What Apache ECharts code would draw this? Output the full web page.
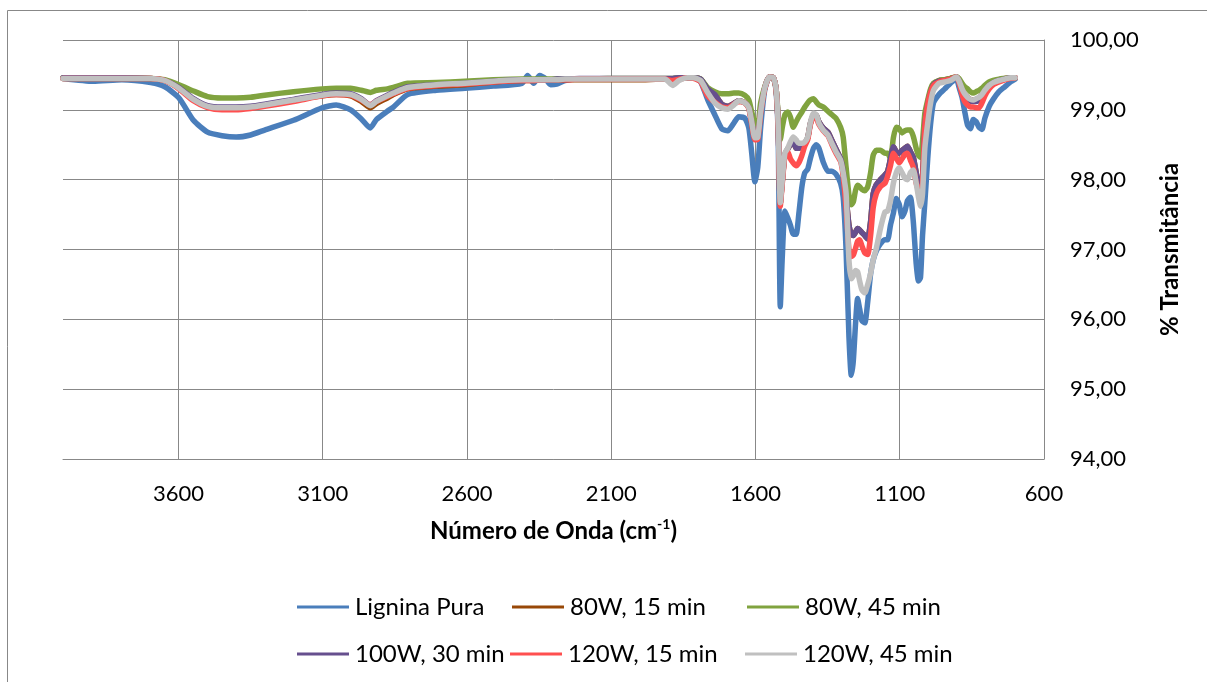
<!DOCTYPE html>
<html>
<head>
<meta charset="utf-8">
<title>FTIR</title>
<script src="https://cdn.jsdelivr.net/npm/echarts@6/dist/echarts.min.js"></script>
<style>
  html, body { margin: 0; padding: 0; background: #ffffff; }
  #chart { width: 1207px; height: 682px; }
</style>
</head>
<body>
<div id="chart"></div>
<script>
// FTIR spectra: wavenumber (cm-1) and % transmittance per sample
const wavenumber = [
  4000, 3895, 3796, 3696, 3647, 3598, 3548, 3499, 3449, 3400,
  3350, 3301, 3201, 3102, 3053, 3003, 2966, 2935, 2914, 2876,
  2855, 2805, 2706, 2607, 2508, 2409, 2390, 2369, 2348, 2329,
  2310, 2289, 2260, 2211, 2112, 2013, 1914, 1887, 1865, 1835,
  1814, 1790, 1766, 1741, 1717, 1696, 1675, 1658, 1637, 1623,
  1613, 1602, 1592, 1582, 1568, 1552, 1538, 1528, 1521, 1514,
  1507, 1498, 1488, 1479, 1469, 1459, 1450, 1439, 1429, 1419,
  1410, 1399, 1389, 1380, 1365, 1349, 1335, 1321, 1305, 1296,
  1286, 1276, 1268, 1261, 1253, 1246, 1239, 1231, 1221, 1211,
  1201, 1192, 1181, 1167, 1151, 1142, 1132, 1122, 1112, 1102,
  1092, 1082, 1073, 1063, 1053, 1043, 1035, 1028, 1021, 1013,
  1003, 993, 983, 964, 944, 924, 904, 895, 884, 875,
  865, 855, 845, 835, 825, 815, 805, 790, 776, 756,
  736, 716, 700
];

const ligninaPura = [
  99.45, 99.41, 99.43, 99.39, 99.33, 99.17, 98.85, 98.68, 98.63, 98.61,
  98.64, 98.71, 98.85, 99.03, 99.07, 99.00, 98.87, 98.74, 98.86, 98.98,
  99.04, 99.22, 99.28, 99.31, 99.34, 99.38, 99.49, 99.38, 99.49, 99.45,
  99.36, 99.37, 99.42, 99.44, 99.44, 99.44, 99.44, 99.44, 99.45, 99.46,
  99.46, 99.40, 99.15, 98.93, 98.73, 98.70, 98.81, 98.90, 98.88, 98.74,
  98.38, 97.97, 98.18, 98.75, 99.28, 99.47, 99.46, 99.24, 98.57, 96.18,
  96.90, 97.55, 97.45, 97.35, 97.22, 97.22, 97.50, 97.90, 98.10, 98.15,
  98.30, 98.45, 98.50, 98.45, 98.25, 98.12, 98.12, 98.08, 97.95, 97.75,
  97.00, 95.75, 95.20, 95.40, 95.95, 96.30, 96.15, 95.98, 95.95, 96.25,
  96.65, 96.85, 96.98, 97.08, 97.14, 97.14, 97.35, 97.52, 97.73, 97.65,
  97.47, 97.55, 97.70, 97.75, 97.40, 96.80, 96.55, 96.60, 97.20, 97.67,
  98.30, 98.80, 99.10, 99.22, 99.30, 99.38, 99.45, 99.33, 99.18, 98.98,
  98.78, 98.73, 98.86, 98.83, 98.75, 98.72, 98.88, 99.05, 99.15, 99.26,
  99.33, 99.40, 99.44
];

const w80m15 = [
  99.45, 99.45, 99.45, 99.45, 99.42, 99.31, 99.15, 99.05, 99.03, 99.03,
  99.04, 99.07, 99.14, 99.20, 99.22, 99.20, 99.12, 99.03, 99.09, 99.17,
  99.22, 99.30, 99.34, 99.36, 99.40, 99.42, 99.42, 99.42, 99.43, 99.43,
  99.43, 99.43, 99.43, 99.43, 99.43, 99.43, 99.44, 99.44, 99.45, 99.46,
  99.46, 99.44, 99.30, 99.22, 99.08, 99.05, 99.09, 99.13, 99.10, 99.03,
  98.82, 98.60, 98.61, 98.97, 99.31, 99.47, 99.46, 99.28, 98.75, 97.66,
  97.98, 98.36, 98.44, 98.50, 98.55, 98.45, 98.45, 98.48, 98.52, 98.60,
  98.80, 98.93, 98.92, 98.83, 98.74, 98.68, 98.56, 98.44, 98.30, 98.12,
  97.75, 97.35, 97.22, 97.20, 97.25, 97.30, 97.28, 97.24, 97.20, 97.15,
  97.40, 97.80, 97.93, 98.00, 98.07, 98.12, 98.30, 98.47, 98.40, 98.38,
  98.42, 98.45, 98.48, 98.40, 98.32, 98.10, 97.95, 97.88, 98.00, 98.78,
  99.10, 99.27, 99.37, 99.42, 99.43, 99.45, 99.47, 99.43, 99.30, 99.22,
  99.18, 99.15, 99.14, 99.14, 99.16, 99.22, 99.29, 99.36, 99.40, 99.43,
  99.45, 99.46, 99.46
];

const w80m45 = [
  99.46, 99.46, 99.46, 99.45, 99.43, 99.36, 99.27, 99.19, 99.17, 99.17,
  99.18, 99.21, 99.26, 99.30, 99.31, 99.31, 99.28, 99.25, 99.28, 99.30,
  99.32, 99.38, 99.39, 99.41, 99.43, 99.44, 99.44, 99.44, 99.44, 99.44,
  99.44, 99.44, 99.44, 99.44, 99.45, 99.45, 99.45, 99.45, 99.46, 99.46,
  99.46, 99.44, 99.32, 99.26, 99.23, 99.23, 99.24, 99.24, 99.21, 99.14,
  98.97, 98.81, 98.80, 99.10, 99.33, 99.47, 99.46, 99.28, 98.90, 98.57,
  98.75, 98.93, 98.97, 98.90, 98.75, 98.83, 98.90, 98.97, 99.04, 99.10,
  99.14, 99.16, 99.11, 99.07, 99.04, 98.98, 98.93, 98.88, 98.75, 98.61,
  98.18, 97.78, 97.64, 97.68, 97.85, 97.92, 97.90, 97.86, 97.84, 97.90,
  98.10, 98.35, 98.42, 98.42, 98.38, 98.38, 98.30, 98.60, 98.75, 98.73,
  98.67, 98.70, 98.71, 98.71, 98.62, 98.45, 98.35, 98.32, 98.55, 98.95,
  99.14, 99.30, 99.38, 99.42, 99.43, 99.45, 99.47, 99.45, 99.38, 99.33,
  99.30, 99.26, 99.24, 99.26, 99.28, 99.31, 99.35, 99.40, 99.42, 99.44,
  99.45, 99.46, 99.46
];

const w100m30 = [
  99.46, 99.46, 99.46, 99.45, 99.42, 99.32, 99.16, 99.06, 99.04, 99.04,
  99.05, 99.08, 99.15, 99.22, 99.24, 99.23, 99.16, 99.07, 99.13, 99.21,
  99.25, 99.33, 99.36, 99.38, 99.41, 99.43, 99.43, 99.43, 99.43, 99.43,
  99.43, 99.44, 99.44, 99.45, 99.45, 99.45, 99.45, 99.45, 99.46, 99.46,
  99.46, 99.44, 99.30, 99.22, 99.08, 99.05, 99.09, 99.13, 99.10, 99.03,
  98.82, 98.60, 98.61, 98.97, 99.31, 99.47, 99.46, 99.28, 98.75, 97.66,
  97.98, 98.36, 98.44, 98.50, 98.55, 98.45, 98.45, 98.48, 98.52, 98.60,
  98.80, 98.93, 98.92, 98.83, 98.74, 98.68, 98.56, 98.44, 98.30, 98.12,
  97.75, 97.35, 97.22, 97.20, 97.25, 97.30, 97.28, 97.24, 97.20, 97.15,
  97.40, 97.80, 97.93, 98.00, 98.07, 98.12, 98.30, 98.47, 98.40, 98.38,
  98.42, 98.45, 98.48, 98.40, 98.32, 98.10, 97.95, 97.88, 98.00, 98.78,
  99.08, 99.25, 99.36, 99.41, 99.42, 99.44, 99.47, 99.42, 99.28, 99.20,
  99.15, 99.12, 99.12, 99.12, 99.14, 99.20, 99.27, 99.35, 99.39, 99.42,
  99.44, 99.46, 99.46
];

const w120m15 = [
  99.45, 99.45, 99.45, 99.45, 99.42, 99.30, 99.13, 99.03, 99.00, 99.00,
  99.02, 99.05, 99.12, 99.20, 99.22, 99.21, 99.14, 99.07, 99.12, 99.19,
  99.23, 99.31, 99.35, 99.37, 99.40, 99.42, 99.42, 99.42, 99.43, 99.43,
  99.43, 99.43, 99.43, 99.44, 99.44, 99.44, 99.44, 99.42, 99.44, 99.46,
  99.45, 99.40, 99.20, 99.11, 99.04, 99.03, 99.08, 99.12, 99.10, 99.02,
  98.80, 98.57, 98.58, 98.95, 99.30, 99.47, 99.46, 99.27, 98.72, 97.62,
  97.95, 98.33, 98.40, 98.30, 98.24, 98.20, 98.24, 98.35, 98.48, 98.57,
  98.78, 98.90, 98.88, 98.79, 98.70, 98.63, 98.50, 98.38, 98.26, 98.05,
  97.60, 97.00, 96.90, 96.92, 97.02, 97.12, 97.14, 97.05, 96.95, 96.93,
  97.20, 97.60, 97.80, 97.90, 97.95, 98.05, 98.20, 98.38, 98.31, 98.24,
  98.30, 98.36, 98.38, 98.28, 98.18, 97.95, 97.85, 97.80, 97.95, 98.75,
  99.08, 99.25, 99.35, 99.40, 99.42, 99.44, 99.47, 99.40, 99.22, 99.12,
  99.07, 99.04, 99.04, 99.03, 99.03, 99.10, 99.20, 99.30, 99.36, 99.40,
  99.43, 99.45, 99.46
];

const w120m45 = [
  99.45, 99.45, 99.45, 99.45, 99.42, 99.31, 99.15, 99.05, 99.03, 99.03,
  99.04, 99.07, 99.14, 99.21, 99.23, 99.22, 99.15, 99.06, 99.12, 99.20,
  99.24, 99.32, 99.36, 99.38, 99.41, 99.43, 99.43, 99.43, 99.43, 99.43,
  99.43, 99.43, 99.44, 99.44, 99.44, 99.44, 99.44, 99.35, 99.42, 99.46,
  99.46, 99.42, 99.25, 99.10, 99.03, 99.01, 99.07, 99.13, 99.10, 99.03,
  98.83, 98.60, 98.61, 98.97, 99.31, 99.47, 99.46, 99.28, 98.75, 97.67,
  98.00, 98.38, 98.45, 98.54, 98.61, 98.57, 98.52, 98.52, 98.54, 98.61,
  98.81, 98.95, 98.93, 98.81, 98.71, 98.64, 98.52, 98.40, 98.28, 98.10,
  97.81, 96.85, 96.58, 96.62, 96.70, 96.68, 96.55, 96.42, 96.38, 96.50,
  96.66, 96.85, 97.02, 97.30, 97.54, 97.55, 97.70, 97.95, 98.10, 98.17,
  98.10, 98.02, 98.00, 98.10, 98.14, 97.95, 97.75, 97.62, 97.80, 98.45,
  98.81, 99.10, 99.28, 99.38, 99.40, 99.42, 99.47, 99.42, 99.30, 99.23,
  99.18, 99.15, 99.14, 99.16, 99.18, 99.22, 99.28, 99.35, 99.39, 99.42,
  99.44, 99.46, 99.46
];

const seriesNames = ['Lignina Pura', '80W, 15 min', '80W, 45 min', '100W, 30 min', '120W, 15 min', '120W, 45 min'];
const seriesValues = [ligninaPura, w80m15, w80m45, w100m30, w120m15, w120m45];
const seriesColors = ['#4a7ebb', '#984807', '#80a33f', '#664f8e', '#ff4f4f', '#c0c0c0'];

const xTicks = [600, 1100, 1600, 2100, 2600, 3100, 3600];
const yTicks = [94, 95, 96, 97, 98, 99, 100];

const FONT = 'Lato';
const GRID_COLOR = '#888888';

// legend entries: one component per entry so every column lines up
const legendSlots = [
  { left: 297, top: 595 }, { left: 512, top: 595 }, { left: 747, top: 595 },
  { left: 297, top: 642 }, { left: 510, top: 642 }, { left: 745, top: 642 }
];

const chart = echarts.init(document.getElementById('chart'), null, { renderer: 'canvas' });

const option = {
  animation: false,
  backgroundColor: '#ffffff',
  textStyle: { fontFamily: FONT },
  graphic: [{
    type: 'rect',
    silent: true,
    z: -10,
    shape: { x: 7.5, y: 10.5, width: 1260, height: 800 },
    style: { fill: 'none', stroke: GRID_COLOR, lineWidth: 1 }
  }],
  grid: { left: 63, right: 163, top: 40, bottom: 223 },
  xAxis: {
    type: 'value',
    inverse: true,
    min: xTicks[0],
    max: 4000,
    interval: xTicks[1] - xTicks[0],
    axisLine: { show: true, lineStyle: { color: GRID_COLOR, width: 1 } },
    axisTick: { show: false },
    splitLine: { show: true, showMaxLine: false, lineStyle: { color: GRID_COLOR, width: 1 } },
    axisLabel: {
      showMaxLabel: false,
      margin: 24,
      fontSize: 22,
      color: '#000',
      fontFamily: FONT,
      formatter: v => xTicks.includes(v) ? String(v) : ''
    },
    name: '{t|Número de Onda (cm}{s|-1}{t|)}',
    nameLocation: 'middle',
    nameGap: 58,
    nameTextStyle: {
      rich: {
        t: { fontSize: 24, fontWeight: 'bold', color: '#000', fontFamily: FONT, lineHeight: 28 },
        s: { fontSize: 14, fontWeight: 'bold', color: '#000', fontFamily: FONT, lineHeight: 28, verticalAlign: 'top' }
      }
    }
  },
  yAxis: {
    type: 'value',
    position: 'right',
    min: yTicks[0],
    max: yTicks[yTicks.length - 1],
    interval: 1,
    axisLine: { show: true, lineStyle: { color: GRID_COLOR, width: 1 } },
    axisTick: { show: false },
    splitLine: { show: true, lineStyle: { color: GRID_COLOR, width: 1 } },
    axisLabel: {
      margin: 26,
      fontSize: 22,
      color: '#000',
      fontFamily: FONT,
      formatter: v => v.toFixed(2).replace('.', ',')
    },
    name: '% Transmitância',
    nameLocation: 'middle',
    nameRotate: 90,
    nameGap: 114,
    nameTextStyle: { fontSize: 24, fontWeight: 'bold', color: '#000', fontFamily: FONT }
  },
  legend: seriesNames.map((name, i) => ({
    data: [name],
    left: legendSlots[i].left,
    top: legendSlots[i].top,
    orient: 'horizontal',
    icon: 'rect',
    itemWidth: 52,
    itemHeight: 3,
    padding: 0,
    selectedMode: false,
    textStyle: { fontSize: 24, color: '#000', fontFamily: FONT, padding: [0, 0, 0, 1] }
  })),
  series: seriesNames.map((name, i) => ({
    name: name,
    type: 'line',
    data: wavenumber.map((w, k) => [w, seriesValues[i][k]]),
    showSymbol: false,
    smooth: 0.2,
    color: seriesColors[i],
    lineStyle: { width: 5.5, color: seriesColors[i], join: 'round', cap: 'round' },
    z: 2 + i
  }))
};

chart.setOption(option);
</script>
</body>
</html>
